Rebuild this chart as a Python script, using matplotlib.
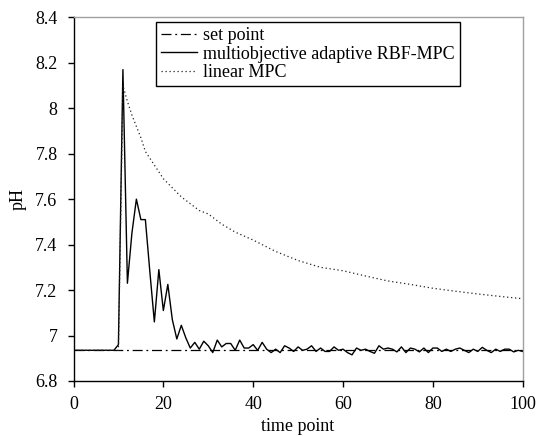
import numpy as np
import matplotlib
matplotlib.use("Agg")
from matplotlib import pyplot as plt

# time points and read values
t = np.arange(0, 101)
set_point = np.full(t.shape, 6.935)

rbf_mpc = [
    6.935, 6.935, 6.935, 6.935, 6.935, 6.935, 6.935, 6.935, 6.935, 6.935,   # 0-9
    6.96, 8.17, 7.23, 7.45, 7.60, 7.51, 7.51, 7.28, 7.06, 7.29,             # 10-19
    7.11, 7.225, 7.07, 6.985, 7.045, 6.99, 6.945, 6.97, 6.94, 6.975,        # 20-29
    6.955, 6.925, 6.98, 6.95, 6.965, 6.965, 6.935, 6.98, 6.945, 6.945,      # 30-39
    6.96, 6.935, 6.97, 6.94, 6.925, 6.94, 6.925, 6.955, 6.945, 6.93,        # 40-49
    6.95, 6.935, 6.94, 6.955, 6.93, 6.945, 6.93, 6.93, 6.95, 6.935,         # 50-59
    6.94, 6.925, 6.915, 6.945, 6.935, 6.94, 6.93, 6.922, 6.955, 6.94,       # 60-69
    6.945, 6.94, 6.928, 6.95, 6.925, 6.945, 6.94, 6.928, 6.945, 6.925,      # 70-79
    6.945, 6.945, 6.93, 6.94, 6.93, 6.94, 6.945, 6.935, 6.925, 6.94,        # 80-89
    6.93, 6.948, 6.935, 6.925, 6.94, 6.93, 6.94, 6.94, 6.928, 6.935,        # 90-99
    6.93,                                                                   # 100
]

lin_t = [0, 10, 11, 12, 13, 14, 15, 16, 17, 18, 19, 20, 22, 24, 26, 28, 30,
         33, 36, 40, 45, 50, 55, 60, 65, 70, 75, 80, 85, 90, 95, 100]
lin_mpc = [6.935, 6.935, 8.10, 8.03, 7.97, 7.92, 7.87, 7.81, 7.78, 7.75, 7.72,
           7.69, 7.65, 7.61, 7.58, 7.55, 7.535, 7.49, 7.455, 7.42, 7.37, 7.33,
           7.30, 7.285, 7.262, 7.24, 7.225, 7.208, 7.195, 7.183, 7.172, 7.162]

xticks = [0, 20, 40, 60, 80, 100]
yticks = [6.8, 7.0, 7.2, 7.4, 7.6, 7.8, 8.0, 8.2, 8.4]
ylabels = ["6.8", "7", "7.2", "7.4", "7.6", "7.8", "8", "8.2", "8.4"]

plt.rcParams['font.family'] = ['Liberation Serif', 'DejaVu Serif']
fs = 13

fig = plt.figure(figsize=(5.38, 4.36), dpi=100)
ax = fig.add_axes([73.5 / 538, 1 - 381 / 436, (522.7 - 73.5) / 538, (381 - 17.3) / 436])

ax.plot(t, set_point, color='black', lw=0.9, ls=(0, (8, 3, 1.5, 3)), label='set point')
ax.plot(t, rbf_mpc, color='black', lw=1.0, label='multiobjective adaptive RBF-MPC')
ax.plot(lin_t, lin_mpc, color='#222222', lw=0.9, ls=(0, (1, 2.2)), label='linear MPC')

ax.set_xlim(0, 100)
ax.set_ylim(6.8, 8.4)
ax.set_xticks(xticks)
ax.set_yticks(yticks)
ax.set_yticklabels(ylabels)
ax.tick_params(direction='out', length=4.5, width=1, labelsize=fs, pad=6)
ax.tick_params(axis='y', pad=7)

for side in ['left', 'bottom']:
    ax.spines[side].set_color('black')
    ax.spines[side].set_linewidth(1.0)
for side in ['top', 'right']:
    ax.spines[side].set_color('#a0a0a0')
    ax.spines[side].set_linewidth(1.0)

ax.set_ylabel('pH', fontsize=fs, labelpad=6)
ax.set_xlabel('time point', fontsize=fs, labelpad=4)

leg = ax.legend(loc='upper left', bbox_to_anchor=(155.6 / 538, 1 - 21.7 / 436),
                bbox_transform=fig.transFigure, borderaxespad=0, fontsize=fs,
                frameon=True, fancybox=False, edgecolor='black', framealpha=1,
                handlelength=2.0, handletextpad=0.3, labelspacing=0.08,
                borderpad=0.3)
leg.get_frame().set_linewidth(1.0)

fig.savefig('out.png', dpi=100)
